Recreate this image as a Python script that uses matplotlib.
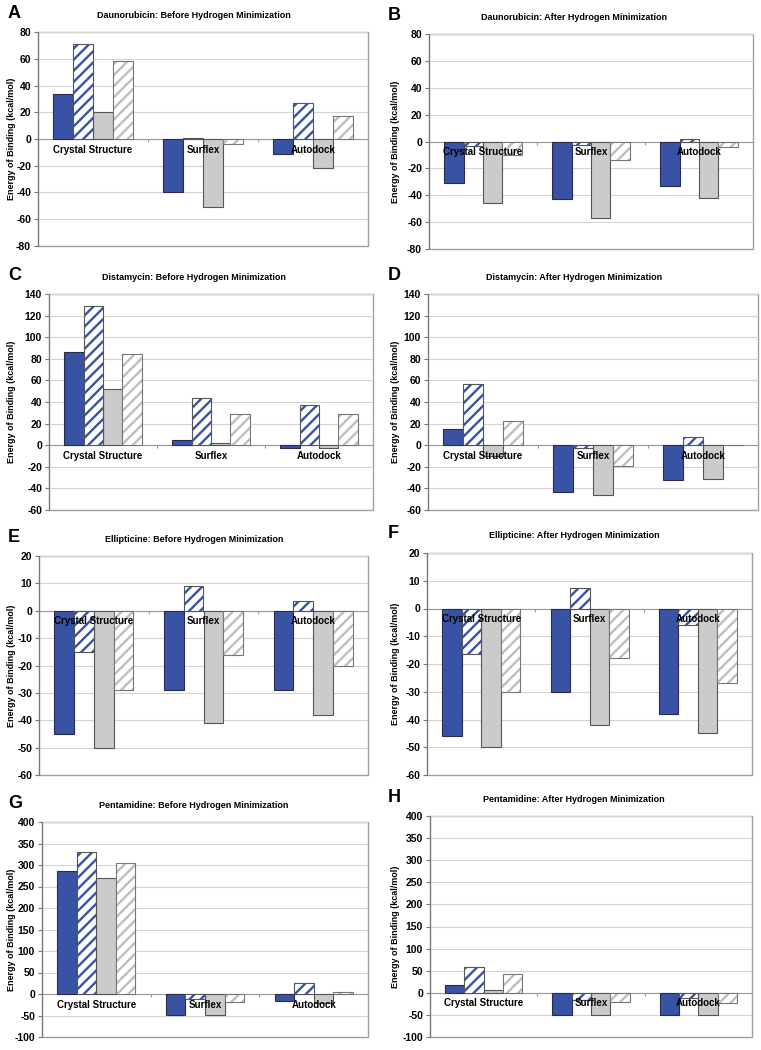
import matplotlib
matplotlib.use("Agg")
import matplotlib.pyplot as plt
import numpy as np

plt.rcParams['font.family'] = ['Liberation Sans', 'DejaVu Sans']
plt.rcParams['font.weight'] = 'bold'
plt.rcParams['axes.unicode_minus'] = False
plt.rcParams['hatch.linewidth'] = 1.7

categories = ["Crystal Structure", "Surflex", "Autodock"]

# four series per panel: solid blue, hatched blue, solid gray, hatched gray
# each series gives values for Crystal Structure, Surflex, Autodock
dauno_before = [[34, -40, -11], [71, 1, 27], [20, -51, -22], [58, -4, 17]]
dauno_after = [[-31, -43, -33], [-3, -2.5, 2], [-46, -57, -42], [-10, -14, -4]]
dista_before = [[86, 5, -3], [129, 44, 37], [52, 2, -3], [84, 29, 29]]
dista_after = [[15, -43, -32], [57, -3, 8], [-10, -46, -31], [22, -19, 0.5]]
ellip_before = [[-45, -29, -29], [-15, 9, 3.5], [-50, -41, -38], [-29, -16, -20]]
ellip_after = [[-46, -30, -38], [-16.5, 7.5, -6], [-50, -42, -45], [-30, -18, -27]]
penta_before = [[285, -48, -17], [330, -12, 25], [270, -48, -22], [305, -18, 5]]
penta_after = [[17, -50, -50], [58, -16, -11], [7, -50, -50], [42, -20, -24]]

letters = ["A", "B", "C", "D", "E", "F", "G", "H"]
titles = [
    "Daunorubicin: Before Hydrogen Minimization",
    "Daunorubicin: After Hydrogen Minimization",
    "Distamycin: Before Hydrogen Minimization",
    "Distamycin: After Hydrogen Minimization",
    "Ellipticine: Before Hydrogen Minimization",
    "Ellipticine: After Hydrogen Minimization",
    "Pentamidine: Before Hydrogen Minimization",
    "Pentamidine: After Hydrogen Minimization",
]
panel_data = [dauno_before, dauno_after, dista_before, dista_after,
              ellip_before, ellip_after, penta_before, penta_after]
ylims = [(-80, 80), (-80, 80), (-60, 140), (-60, 140),
         (-60, 20), (-60, 20), (-100, 400), (-100, 400)]
ysteps = [20, 20, 20, 20, 10, 10, 50, 50]

# plot-area boxes in pixels (x0, y0, x1, y1) measured from the top-left
W, H = 761, 1050
boxes = [(38, 32, 368, 246), (429, 34, 753, 249),
         (49, 294, 373, 510), (428, 294, 758, 510),
         (39, 556, 368, 775), (427, 553, 752, 775),
         (42, 822, 368, 1037), (430, 816, 752, 1037)]

blue = "#3953A4"
gray = "#CBCBCB"
gray_hatch = "#BEBEBE"
styles = [
    dict(face=blue, hatch=None, hcolor=None, edge="#2A2A50"),
    dict(face="white", hatch="///", hcolor=blue, edge="#555555"),
    dict(face=gray, hatch=None, hcolor=None, edge="#555555"),
    dict(face="white", hatch="///", hcolor=gray_hatch, edge="#777777"),
]

fig = plt.figure(figsize=(W / 100, H / 100), dpi=100)

bw = 0.18
x = np.arange(len(categories))
for i in range(8):
    x0, y0, x1, y1 = boxes[i]
    ax = fig.add_axes([x0 / W, 1 - y1 / H, (x1 - x0) / W, (y1 - y0) / H])
    for k, s in enumerate(styles):
        pos = x + (k - 1.5) * bw
        vals = panel_data[i][k]
        if s["hatch"]:
            ax.bar(pos, vals, bw, color=s["face"], edgecolor=s["hcolor"],
                   hatch=s["hatch"], linewidth=0, zorder=2)
            ax.bar(pos, vals, bw, color="none", edgecolor=s["edge"],
                   linewidth=0.8, zorder=3)
        else:
            ax.bar(pos, vals, bw, color=s["face"], edgecolor=s["edge"],
                   linewidth=0.8, zorder=2)

    lo, hi = ylims[i]
    ax.set_ylim(lo, hi)
    ax.set_xlim(-0.5, len(categories) - 0.5)
    ax.set_yticks(np.arange(lo, hi + 1, ysteps[i]))
    ax.tick_params(axis='y', labelsize=7.5, length=3, color="#777777", pad=2)
    for lab in ax.get_yticklabels():
        lab.set_fontweight('bold')
    ax.grid(axis='y', color="#D4D4D4", linewidth=0.8, zorder=0)
    ax.set_axisbelow(True)

    # zero line as bottom spine, with ticks at group boundaries
    ax.spines['bottom'].set_position(('data', 0))
    ax.spines['bottom'].set_color("#999999")
    ax.spines['bottom'].set_zorder(1.5)
    ax.set_xticks(np.arange(len(categories) - 1) + 0.5)
    ax.set_xticklabels([])
    ax.tick_params(axis='x', length=2.5, color="#999999")
    for side in ['top', 'right']:
        ax.spines[side].set_visible(False)
    ax.spines['left'].set_color("#777777")
    ax.patch.set_edgecolor("#A0A0A0")
    ax.patch.set_linewidth(1.0)

    for j, cat in enumerate(categories):
        ax.annotate(cat, xy=(x[j], 0), xytext=(0, -4), textcoords='offset points',
                    ha='center', va='top', fontsize=7, fontweight='bold', zorder=5)

    col_left = 0 if i % 2 == 0 else 380
    ymid = (y0 + y1) / 2
    fig.text((col_left + 194) / W, 1 - (y0 - 17) / H, titles[i], ha='center', va='center',
             fontsize=6.5, fontweight='bold')
    fig.text((col_left + 8) / W, 1 - (y0 - 19) / H, letters[i], ha='left', va='center',
             fontsize=13, fontweight='bold')
    fig.text((col_left + 12 + (3 if i % 2 else 0)) / W, 1 - ymid / H,
             "Energy of Binding (kcal/mol)", rotation=90, ha='center', va='center',
             fontsize=6.5, fontweight='bold')

fig.savefig("out.png", dpi=100)
